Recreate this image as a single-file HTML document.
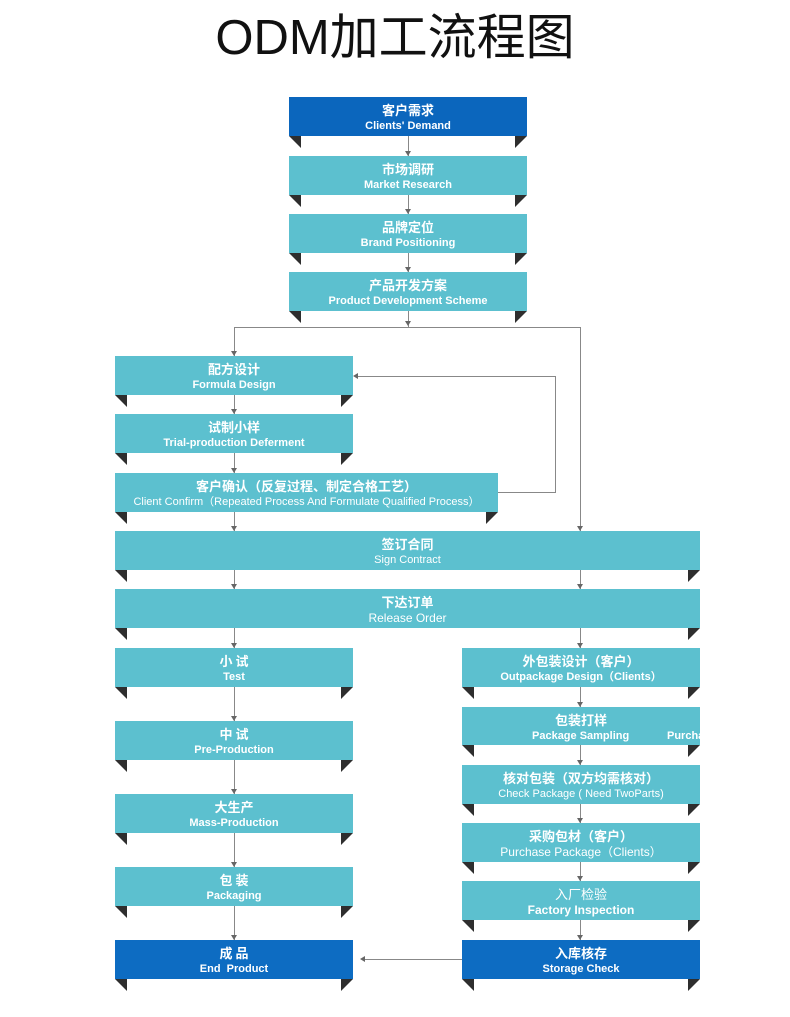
<!DOCTYPE html>
<html><head><meta charset="utf-8"><style>
body{margin:0;width:790px;height:1017px;background:#fff;position:relative;overflow:hidden;font-family:"Liberation Sans","Noto Sans CJK SC",sans-serif}
.b{position:absolute;background:#5cc0cf;color:#fff;text-align:center;overflow:hidden;box-sizing:border-box}
.d{background:#0d6cc2}
.b .c{font-size:13px;font-weight:bold;line-height:16px;margin-top:5px;font-family:"Noto Sans CJK SC",sans-serif}
.b .e{font-size:11px;line-height:16px;font-weight:bold}
.t{position:absolute;width:0;height:0}
.tl{border-top:12px solid #2e2e2e;border-left:12px solid transparent}
.tr{border-top:12px solid #2e2e2e;border-right:12px solid transparent}
.v{position:absolute;width:1px;background:#888}
.h{position:absolute;height:1px;background:#888}
.a{position:absolute;width:0;height:0;border-left:3px solid transparent;border-right:3px solid transparent;border-top:5px solid #666}
</style></head><body>
<div style="position:absolute;left:0;width:790px;top:6px;text-align:center;font-size:49px;color:#111;font-family:'Liberation Sans','Noto Sans CJK SC',sans-serif;line-height:64px">ODM加工流程图</div>

<!-- connectors -->
<div class="v" style="left:408px;top:136px;height:20px"></div><div class="a" style="left:405px;top:151px"></div>
<div class="v" style="left:408px;top:195px;height:19px"></div><div class="a" style="left:405px;top:209px"></div>
<div class="v" style="left:408px;top:253px;height:19px"></div><div class="a" style="left:405px;top:267px"></div>
<div class="v" style="left:408px;top:311px;height:16px"></div><div class="a" style="left:405px;top:321px"></div>
<div class="h" style="left:234px;top:327px;width:347px"></div>
<div class="v" style="left:234px;top:327px;height:29px"></div><div class="a" style="left:231px;top:351px"></div>
<div class="v" style="left:580px;top:327px;height:204px"></div><div class="a" style="left:577px;top:526px"></div>
<div class="h" style="left:498px;top:492px;width:57px"></div>
<div class="v" style="left:555px;top:376px;height:117px"></div>
<div class="h" style="left:355px;top:376px;width:200px"></div>
<div style="position:absolute;left:353px;top:373px;border-top:3px solid transparent;border-bottom:3px solid transparent;border-right:5px solid #666"></div>
<div class="v" style="left:234px;top:395px;height:19px"></div><div class="a" style="left:231px;top:409px"></div>
<div class="v" style="left:234px;top:453px;height:20px"></div><div class="a" style="left:231px;top:468px"></div>
<div class="v" style="left:234px;top:512px;height:19px"></div><div class="a" style="left:231px;top:526px"></div>
<div class="v" style="left:234px;top:570px;height:19px"></div><div class="a" style="left:231px;top:584px"></div>
<div class="v" style="left:580px;top:570px;height:19px"></div><div class="a" style="left:577px;top:584px"></div>
<div class="v" style="left:234px;top:628px;height:20px"></div><div class="a" style="left:231px;top:643px"></div>
<div class="v" style="left:580px;top:628px;height:20px"></div><div class="a" style="left:577px;top:643px"></div>
<div class="v" style="left:234px;top:687px;height:34px"></div><div class="a" style="left:231px;top:716px"></div>
<div class="v" style="left:234px;top:760px;height:34px"></div><div class="a" style="left:231px;top:789px"></div>
<div class="v" style="left:234px;top:833px;height:34px"></div><div class="a" style="left:231px;top:862px"></div>
<div class="v" style="left:234px;top:906px;height:34px"></div><div class="a" style="left:231px;top:935px"></div>
<div class="v" style="left:580px;top:687px;height:20px"></div><div class="a" style="left:577px;top:702px"></div>
<div class="v" style="left:580px;top:745px;height:20px"></div><div class="a" style="left:577px;top:760px"></div>
<div class="v" style="left:580px;top:804px;height:19px"></div><div class="a" style="left:577px;top:818px"></div>
<div class="v" style="left:580px;top:862px;height:19px"></div><div class="a" style="left:577px;top:876px"></div>
<div class="v" style="left:580px;top:920px;height:20px"></div><div class="a" style="left:577px;top:935px"></div>
<div class="h" style="left:364px;top:959px;width:98px"></div>
<div style="position:absolute;left:360px;top:956px;border-top:3px solid transparent;border-bottom:3px solid transparent;border-right:5px solid #666"></div>

<!-- boxes -->
<div class="b d" style="left:289px;top:97px;width:238px;height:39px;background:#0b66bd"><div class="c">客户需求</div><div class="e">Clients' Demand</div></div>
<div class="t tl" style="left:289px;top:136px"></div><div class="t tr" style="left:515px;top:136px"></div>
<div class="b" style="left:289px;top:156px;width:238px;height:39px"><div class="c">市场调研</div><div class="e">Market Research</div></div>
<div class="t tl" style="left:289px;top:195px"></div><div class="t tr" style="left:515px;top:195px"></div>
<div class="b" style="left:289px;top:214px;width:238px;height:39px"><div class="c">品牌定位</div><div class="e">Brand Positioning</div></div>
<div class="t tl" style="left:289px;top:253px"></div><div class="t tr" style="left:515px;top:253px"></div>
<div class="b" style="left:289px;top:272px;width:238px;height:39px"><div class="c">产品开发方案</div><div class="e">Product Development Scheme</div></div>
<div class="t tl" style="left:289px;top:311px"></div><div class="t tr" style="left:515px;top:311px"></div>

<div class="b" style="left:115px;top:356px;width:238px;height:39px"><div class="c">配方设计</div><div class="e">Formula Design</div></div>
<div class="t tl" style="left:115px;top:395px"></div><div class="t tr" style="left:341px;top:395px"></div>
<div class="b" style="left:115px;top:414px;width:238px;height:39px"><div class="c">试制小样</div><div class="e">Trial-production Deferment</div></div>
<div class="t tl" style="left:115px;top:453px"></div><div class="t tr" style="left:341px;top:453px"></div>
<div class="b" style="left:115px;top:473px;width:383px;height:39px"><div class="c">客户确认（反复过程、制定合格工艺）</div><div class="e" style="font-weight:normal">Client Confirm（Repeated Process And Formulate Qualified Process）</div></div>
<div class="t tl" style="left:115px;top:512px"></div><div class="t tr" style="left:486px;top:512px"></div>

<div class="b" style="left:115px;top:531px;width:585px;height:39px"><div class="c">签订合同</div><div class="e" style="font-weight:normal">Sign Contract</div></div>
<div class="t tl" style="left:115px;top:570px"></div><div class="t tr" style="left:688px;top:570px"></div>
<div class="b" style="left:115px;top:589px;width:585px;height:39px"><div class="c">下达订单</div><div class="e" style="font-weight:normal;font-size:12px">Release Order</div></div>
<div class="t tl" style="left:115px;top:628px"></div><div class="t tr" style="left:688px;top:628px"></div>

<div class="b" style="left:115px;top:648px;width:238px;height:39px"><div class="c">小 试</div><div class="e">Test</div></div>
<div class="t tl" style="left:115px;top:687px"></div><div class="t tr" style="left:341px;top:687px"></div>
<div class="b" style="left:115px;top:721px;width:238px;height:39px"><div class="c">中 试</div><div class="e">Pre-Production</div></div>
<div class="t tl" style="left:115px;top:760px"></div><div class="t tr" style="left:341px;top:760px"></div>
<div class="b" style="left:115px;top:794px;width:238px;height:39px"><div class="c">大生产</div><div class="e">Mass-Production</div></div>
<div class="t tl" style="left:115px;top:833px"></div><div class="t tr" style="left:341px;top:833px"></div>
<div class="b" style="left:115px;top:867px;width:238px;height:39px"><div class="c">包 装</div><div class="e">Packaging</div></div>
<div class="t tl" style="left:115px;top:906px"></div><div class="t tr" style="left:341px;top:906px"></div>
<div class="b d" style="left:115px;top:940px;width:238px;height:39px"><div class="c">成 品</div><div class="e">End&nbsp; Product</div></div>
<div class="t tl" style="left:115px;top:979px"></div><div class="t tr" style="left:341px;top:979px"></div>

<div class="b" style="left:462px;top:648px;width:238px;height:39px"><div class="c">外包装设计（客户）</div><div class="e">Outpackage Design（Clients）</div></div>
<div class="t tl" style="left:462px;top:687px"></div><div class="t tr" style="left:688px;top:687px"></div>
<div class="b" style="left:462px;top:707px;width:238px;height:38px"><div class="c">包装打样</div><div class="e" style="position:relative"><span style="position:absolute;left:70px">Package Sampling</span><span style="position:absolute;left:205px">Purchase</span>&nbsp;</div></div>
<div class="t tl" style="left:462px;top:745px"></div><div class="t tr" style="left:688px;top:745px"></div>
<div class="b" style="left:462px;top:765px;width:238px;height:39px"><div class="c">核对包装（双方均需核对）</div><div class="e" style="font-weight:normal">Check Package ( Need TwoParts)</div></div>
<div class="t tl" style="left:462px;top:804px"></div><div class="t tr" style="left:688px;top:804px"></div>
<div class="b" style="left:462px;top:823px;width:238px;height:39px"><div class="c">采购包材（客户）</div><div class="e" style="font-weight:normal;font-size:12px">Purchase Package（Clients）</div></div>
<div class="t tl" style="left:462px;top:862px"></div><div class="t tr" style="left:688px;top:862px"></div>
<div class="b" style="left:462px;top:881px;width:238px;height:39px"><div class="c" style="font-weight:normal">入厂检验</div><div class="e" style="font-size:12px">Factory Inspection</div></div>
<div class="t tl" style="left:462px;top:920px"></div><div class="t tr" style="left:688px;top:920px"></div>
<div class="b d" style="left:462px;top:940px;width:238px;height:39px"><div class="c">入库核存</div><div class="e">Storage Check</div></div>
<div class="t tl" style="left:462px;top:979px"></div><div class="t tr" style="left:688px;top:979px"></div>
</body></html>
